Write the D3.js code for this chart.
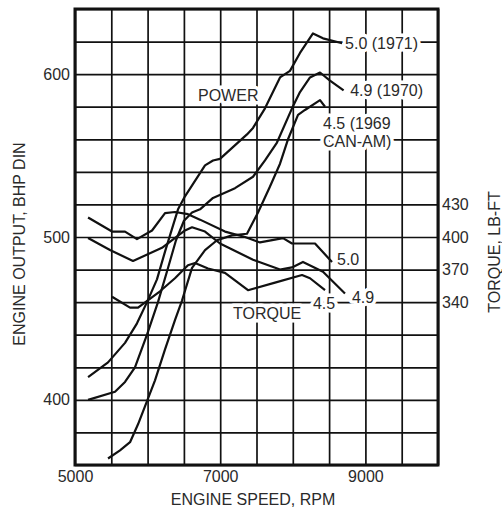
<!DOCTYPE html>
<html lang="en">
<head>
<meta charset="utf-8">
<title>Engine output</title>
<style>
  body { margin: 0; background: #fff; }
  svg text { font-family: "Liberation Sans", Arial, sans-serif; fill: #2a2a2a; }
  .grid line { stroke: #111; stroke-width: 1.7; }
  .grid path { display: none; }
  .lbl { font-size: 16px; paint-order: stroke; stroke: #fff; stroke-width: 7px; stroke-linejoin: round; }
</style>
</head>
<body>
<svg id="chart" width="502" height="507"></svg>
<script src="https://d3js.org/d3.v7.min.js"></script>
<script>
// ticks
const rpmTicks = [5000, 7000, 9000];
const powerTicks = [400, 500, 600];
const torqueTicks = [340, 370, 400, 430];

// power curves, [rpm, bhp]
const power50 = [[5180,414],[5455,423],[5689,435],[5854,447],[5992,460],[6129,474],[6240,491],[6336,505],[6419,517],[6515,525],[6791,544],[6901,547],[6997,548],[7369,563],[7452,567],[7617,579],[7824,598],[7961,602],[8099,613],[8278,625],[8416,622],[8680,619]];
const power49 = [[5180,400],[5551,405],[5689,411],[5826,420],[5992,440],[6143,460],[6281,481],[6391,498],[6501,510],[6612,515],[6722,517],[6901,524],[7204,530],[7452,537],[7617,547],[7782,558],[7989,579],[8099,589],[8237,598],[8375,601],[8512,596],[8700,590]];
const power45 = [[5455,364],[5620,369],[5758,374],[5868,385],[5964,396],[6102,412],[6240,431],[6377,449],[6474,461],[6612,481],[6791,492],[6956,498],[7162,501],[7369,502],[7521,515],[7686,531],[7824,545],[7934,560],[8072,575],[8168,578],[8375,584],[8444,580]];

// torque curves, [rpm, lb-ft]
const torque50 = [[5180,418],[5510,405],[5689,405],[5854,398],[6061,406],[6240,422],[6377,423],[6556,421],[6722,416],[7066,405],[7342,400],[7548,395],[7865,399],[7989,394],[8306,394],[8540,377]];
const torque49 = [[5180,399],[5482,388],[5799,378],[6198,390],[6515,406],[6612,409],[6791,405],[6997,394],[7452,379],[7824,370],[7989,372],[8140,377],[8416,368],[8719,348]];
const torque45 = [[5510,345],[5758,335],[5868,335],[6171,350],[6377,362],[6556,374],[6653,376],[6832,371],[7066,367],[7383,351],[7755,358],[8127,365],[8237,362],[8444,351]];

const svg = d3.select("#chart");
const pLeft = 75, pRight = 438, pTop = 9, pBottom = 465;

const x = d3.scaleLinear().domain([5000, 10000]).range([pLeft, pRight]);
const y = d3.scaleLinear().domain([360, 640]).range([pBottom, pTop]);
// torque axis: 30 lb-ft per 20 bhp grid row, 400 lb-ft level with 500 bhp
const yT = d3.scaleLinear().domain([190, 610]).range([pBottom, pTop]);

// grid
svg.append("g").attr("class", "grid")
  .attr("transform", `translate(0,${pBottom})`)
  .call(d3.axisBottom(x).tickValues(d3.range(5000, 10001, 500))
    .tickSize(-(pBottom - pTop)).tickPadding(6)
    .tickFormat(d => rpmTicks.includes(d) ? d : ""))
  .call(g => g.selectAll("text").style("font-size", "16px"));

svg.append("g").attr("class", "grid")
  .attr("transform", `translate(${pLeft},0)`)
  .call(d3.axisLeft(y).tickValues(d3.range(360, 641, 20))
    .tickSize(-(pRight - pLeft)).tickPadding(5)
    .tickFormat(d => powerTicks.includes(d) ? d : ""))
  .call(g => g.selectAll("text").style("font-size", "16px"));

svg.append("g").attr("class", "grid")
  .attr("transform", `translate(${pRight},0)`)
  .call(d3.axisRight(yT).tickValues(torqueTicks).tickSize(0).tickPadding(4))
  .call(g => g.selectAll("text").style("font-size", "16px"));

// frame
svg.append("rect")
  .attr("x", pLeft).attr("y", pTop)
  .attr("width", pRight - pLeft).attr("height", pBottom - pTop)
  .attr("fill", "none").attr("stroke", "#111").attr("stroke-width", 3);

// curves
const linePow = d3.line().x(d => x(d[0])).y(d => y(d[1]));
const lineTq = d3.line().x(d => x(d[0])).y(d => yT(d[1]));

[power50, power49, power45].forEach(s => {
  svg.append("path").attr("d", linePow(s))
    .attr("fill", "none").attr("stroke", "#111").attr("stroke-width", 2.2).attr("stroke-linejoin", "round");
});
[torque50, torque49, torque45].forEach(s => {
  svg.append("path").attr("d", lineTq(s))
    .attr("fill", "none").attr("stroke", "#111").attr("stroke-width", 2.2).attr("stroke-linejoin", "round");
});

// labels
function label(px, py, txt) {
  svg.append("text").attr("class", "lbl")
    .attr("x", px).attr("y", py).attr("dy", "0.35em").text(txt);
}
label(x(8720), y(619), "5.0 (1971)");
label(x(8790), y(590), "4.9 (1970)");
label(x(8416), y(570), "4.5 (1969");
label(x(8416), y(558.5), "CAN-AM)");
label(x(6694), y(587), "POWER");
label(x(8609), yT(379), "5.0");
label(x(8278), yT(339), "4.5");
label(x(8815), yT(344), "4.9");
label(x(7176), yT(330), "TORQUE");

// axis titles
svg.append("text").attr("x", 253).attr("y", 499).attr("dy", "0.35em")
  .attr("text-anchor", "middle").style("font-size", "16px")
  .text("ENGINE SPEED, RPM");
svg.append("text").attr("transform", "translate(19,244) rotate(-90)")
  .attr("dy", "0.35em").attr("text-anchor", "middle").style("font-size", "16px")
  .text("ENGINE OUTPUT, BHP DIN");
svg.append("text").attr("transform", "translate(494,252) rotate(-90)")
  .attr("dy", "0.35em").attr("text-anchor", "middle").style("font-size", "16px")
  .text("TORQUE, LB-FT");
</script>
</body>
</html>
